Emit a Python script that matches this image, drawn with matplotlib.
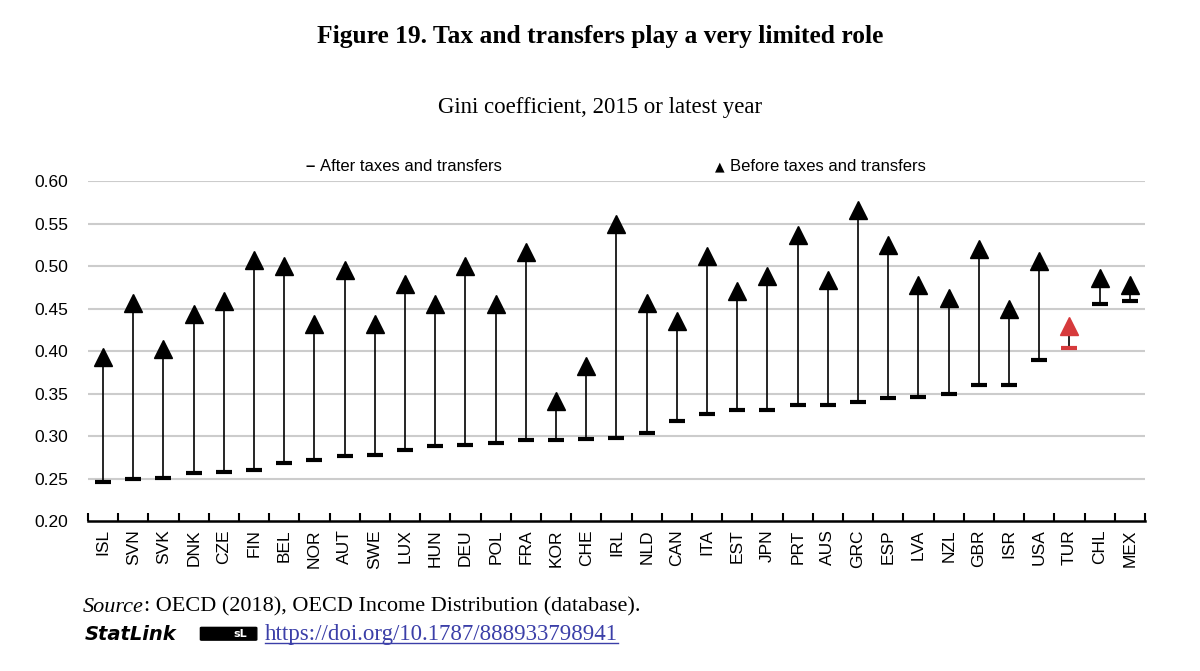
import numpy as np
import matplotlib
matplotlib.use("Agg")
import matplotlib.pyplot as plt
from matplotlib.lines import Line2D
from matplotlib.patches import FancyBboxPatch

countries = ["ISL", "SVN", "SVK", "DNK", "CZE", "FIN", "BEL", "NOR", "AUT", "SWE",
             "LUX", "HUN", "DEU", "POL", "FRA", "KOR", "CHE", "IRL", "NLD", "CAN",
             "ITA", "EST", "JPN", "PRT", "AUS", "GRC", "ESP", "LVA", "NZL", "GBR",
             "ISR", "USA", "TUR", "CHL", "MEX"]
after = [0.246, 0.250, 0.251, 0.256, 0.258, 0.260, 0.268, 0.272, 0.276, 0.278,
         0.284, 0.288, 0.289, 0.292, 0.295, 0.295, 0.297, 0.298, 0.304, 0.318,
         0.326, 0.331, 0.331, 0.336, 0.337, 0.340, 0.345, 0.346, 0.349, 0.360,
         0.360, 0.390, 0.404, 0.455, 0.459]
before = [0.393, 0.457, 0.402, 0.444, 0.459, 0.507, 0.500, 0.432, 0.495, 0.432,
          0.479, 0.455, 0.500, 0.455, 0.516, 0.341, 0.382, 0.549, 0.457, 0.435,
          0.512, 0.471, 0.488, 0.536, 0.483, 0.566, 0.525, 0.478, 0.462, 0.520,
          0.450, 0.506, 0.429, 0.486, 0.478]
highlight = "TUR"

sans = ["Liberation Sans", "DejaVu Sans"]
serif = ["Liberation Serif", "DejaVu Serif"]

fig = plt.figure(figsize=(12, 6.71), dpi=100)
ax = fig.add_axes([0.0733, 0.2235, 0.8808, 0.5067])

x = np.arange(len(countries))
for i, c in enumerate(countries):
    col = "#d63a3c" if c == highlight else "black"
    ax.vlines(x[i], after[i], before[i], color="black", lw=1.2, zorder=2)
    ax.plot(x[i], after[i], marker="_", ms=12, mew=3, color=col, zorder=3)
    ax.plot(x[i], before[i], marker="^", ms=13.5, color=col, lw=0, zorder=4)

ax.set_xlim(-0.5, len(countries) - 0.5)
ax.set_ylim(0.20, 0.60)
ax.set_yticks(np.arange(0.20, 0.601, 0.05))
ax.set_yticklabels(["%.2f" % v for v in np.arange(0.20, 0.601, 0.05)],
                   fontfamily=sans, fontsize=12.5)
for v in np.arange(0.25, 0.601, 0.05):
    ax.axhline(v, color="#cccccc", lw=1.5, zorder=0)

ax.set_xticks(x)
ax.set_xticklabels(countries, rotation=90, fontfamily=sans, fontsize=12.5)
ax.set_xticks(np.arange(-0.5, len(countries)), minor=True)
ax.tick_params(axis="x", which="major", length=0, pad=6)
ax.tick_params(axis="x", which="minor", direction="in", length=6, width=1.5)
ax.tick_params(axis="y", length=0, pad=14)
for s in ["top", "right", "left"]:
    ax.spines[s].set_visible(False)
ax.spines["bottom"].set_linewidth(1.8)

fig.text(0.5, 0.946, "Figure 19. Tax and transfers play a very limited role",
         ha="center", va="center", fontfamily=serif, fontweight="bold", fontsize=18.4)
fig.text(0.5, 0.840, "Gini coefficient, 2015 or latest year",
         ha="center", va="center", fontfamily=serif, fontsize=16.5)

fig.text(0.2542, 0.752, "\u2013", ha="left", va="center", fontfamily=sans,
         fontsize=12, fontweight="bold")
fig.text(0.2667, 0.752, "After taxes and transfers", ha="left", va="center",
         fontfamily=sans, fontsize=12)
fig.text(0.5958, 0.752, "\u25b2", ha="left", va="center", fontfamily=["DejaVu Sans"],
         fontsize=9)
fig.text(0.6083, 0.752, "Before taxes and transfers", ha="left", va="center",
         fontfamily=sans, fontsize=12)

fig.canvas.draw()
r = fig.canvas.get_renderer()
s1 = fig.text(0.069, 0.095, "Source", ha="left", va="center",
              fontfamily=serif, fontstyle="italic", fontsize=16)
bb = s1.get_window_extent(r)
fig.text(bb.x1 / 1200, 0.095, ": OECD (2018), OECD Income Distribution (database).",
         ha="left", va="center", fontfamily=serif, fontsize=16)

fig.text(0.071, 0.055, "StatLink", ha="left", va="center", fontfamily=["DejaVu Sans"],
         fontweight="bold", fontstyle="italic", fontsize=14, stretch="expanded")
fig.patches.append(FancyBboxPatch((0.168, 0.047), 0.045, 0.017,
                                  boxstyle="round,pad=0.001", transform=fig.transFigure,
                                  fc="black", ec="black", figure=fig))
fig.text(0.2, 0.055, "sL", ha="center", va="center", fontfamily=["DejaVu Sans"],
         fontweight="bold", fontsize=8, color="white")
link = fig.text(0.2208, 0.055, "https://doi.org/10.1787/888933798941", ha="left",
                va="center", fontfamily=serif, fontsize=16.5, color="#3b3fa8")
fig.canvas.draw()
lb = link.get_window_extent(fig.canvas.get_renderer())
fig.add_artist(Line2D([lb.x0 / 1200, lb.x1 / 1200], [(lb.y0 + 2) / 671] * 2,
                      color="#3b3fa8", lw=1))

fig.savefig("out.png", dpi=100)
